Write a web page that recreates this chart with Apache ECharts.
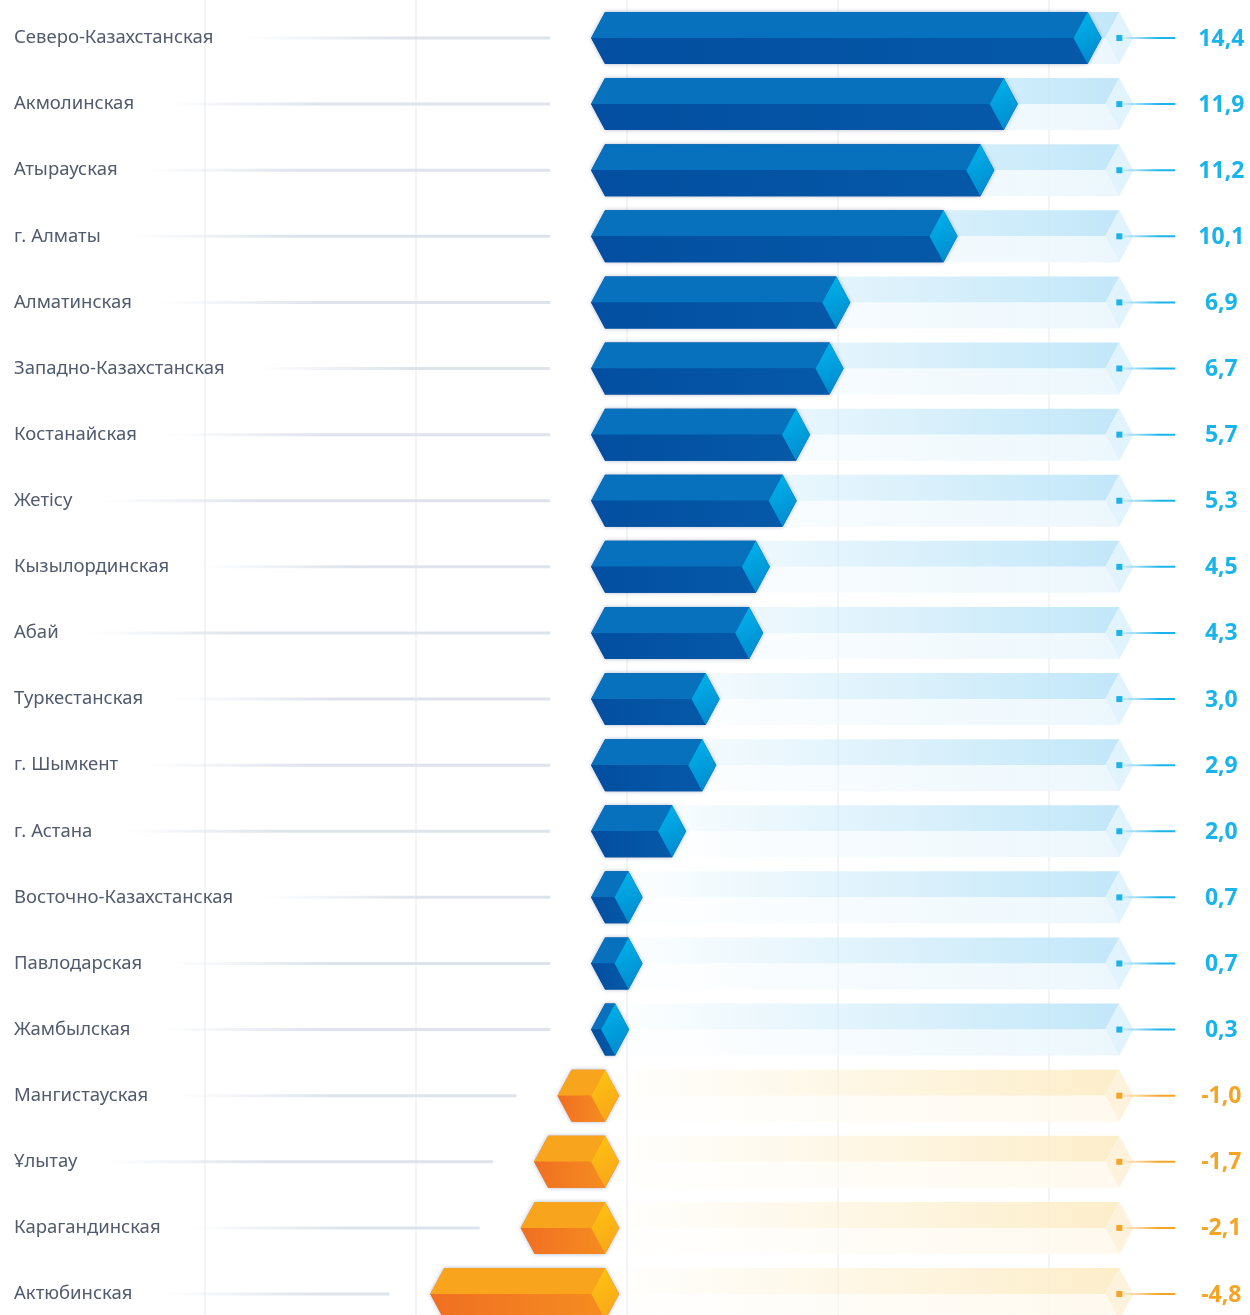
<!DOCTYPE html>
<html>
<head>
<meta charset="utf-8">
<script src="https://cdn.jsdelivr.net/npm/echarts@6/dist/echarts.min.js"></script>
<style>
  html, body { margin: 0; padding: 0; background: #fff; }
  #chart { width: 1250px; height: 1315px; }
</style>
</head>
<body>
<div id="chart"></div>
<script>
  // регионы и значения
  const regions = [
    'Северо-Казахстанская', 'Акмолинская', 'Атырауская', 'г. Алматы', 'Алматинская',
    'Западно-Казахстанская', 'Костанайская', 'Жетісу', 'Кызылординская', 'Абай',
    'Туркестанская', 'г. Шымкент', 'г. Астана', 'Восточно-Казахстанская', 'Павлодарская',
    'Жамбылская', 'Мангистауская', 'Ұлытау', 'Карагандинская', 'Актюбинская'
  ];
  const growth = [14.4, 11.9, 11.2, 10.1, 6.9, 6.7, 5.7, 5.3, 4.5, 4.3,
                  3.0, 2.9, 2.0, 0.7, 0.7, 0.3, -1.0, -1.7, -2.1, -4.8];
  const valueLabels = growth.map(v => v.toFixed(1).replace('.', ','));
  const trackEnd = 15.35;

  const labelFont = '18.5px "Noto Sans"';
  const measure = document.createElement('canvas').getContext('2d');
  measure.font = labelFont;

  const blue = {
    top: '#0871bd', bottom: '#034ea0', bottomR: '#0559a8',
    capA: '#00b6ec', capB: '#0086cc',
    trackTop: '194,231,249', trackBottom: '236,247,253', trackCap: '#e1f3fc',
    accent: '#1bb4ea', accentRgb: '27,180,234'
  };
  const orange = {
    top: '#f8a51d', bottom: '#f06f22', bottomR: '#f58c20',
    capA: '#fec510', capB: '#f8a31a',
    trackTop: '253,238,202', trackBottom: '255,249,238', trackCap: '#fdf2dc',
    accent: '#f6a424', accentRgb: '246,164,36'
  };

  function grad(x1, y1, x2, y2, c1, c2) {
    return new echarts.graphic.LinearGradient(x1, y1, x2, y2,
      [{ offset: 0, color: c1 }, { offset: 1, color: c2 }], true);
  }

  function renderRow(params, api) {
    const v = api.value(0), i = api.value(1);
    const p0 = api.coord([0, i]);
    const x0 = p0[0], y = p0[1];
    const xv = api.coord([v, i])[0];
    const xt = api.coord([trackEnd, i])[0];
    const h = 26, d = 14;
    const xl = Math.min(x0, xv), xr = Math.max(x0, xv);
    const pal = v >= 0 ? blue : orange;

    // серая направляющая слева
    const ls = 14 + measure.measureText(regions[i]).width + 28;
    const le = xl - d - 41;
    const children = [];
    if (le > ls) {
      children.push({
        type: 'line',
        shape: { x1: ls, y1: y, x2: le, y2: y },
        style: { lineWidth: 3, stroke: grad(ls, 0, ls + 160, 0, 'rgba(222,227,236,0)', '#dee3ec') }
      });
    }

    // фон (дорожка)
    children.push({
      type: 'polygon',
      shape: { points: [[x0, y - h], [xt, y - h], [xt - d, y], [x0, y]] },
      style: { fill: grad(x0, 0, xt, 0, 'rgba(' + pal.trackTop + ',0)', 'rgba(' + pal.trackTop + ',1)') }
    });
    children.push({
      type: 'polygon',
      shape: { points: [[x0, y], [xt - d, y], [xt, y + h], [x0, y + h]] },
      style: { fill: grad(x0, 0, xt, 0, 'rgba(' + pal.trackBottom + ',0)', 'rgba(' + pal.trackBottom + ',1)') }
    });
    children.push({
      type: 'polygon',
      shape: { points: [[xt, y - h], [xt + d, y], [xt, y + h], [xt - d, y]] },
      style: { fill: pal.trackCap }
    });

    // сам столбик
    children.push({
      type: 'polygon',
      shape: { points: [[xl - d, y], [xl, y - h], [xr, y - h], [xr + d, y], [xr, y + h], [xl, y + h]] },
      style: { fill: pal.bottom, shadowBlur: 4, shadowColor: 'rgba(20,50,110,0.35)' }
    });
    children.push({
      type: 'polygon',
      shape: { points: [[xl, y - h], [xr, y - h], [xr - d, y], [xl - d, y]] },
      style: { fill: pal.top }
    });
    children.push({
      type: 'polygon',
      shape: { points: [[xl - d, y], [xr - d, y], [xr, y + h], [xl, y + h]] },
      style: { fill: grad(xl - d, 0, xr, 0, pal.bottom, pal.bottomR) }
    });
    children.push({
      type: 'polygon',
      shape: { points: [[xr, y - h], [xr + d, y], [xr, y + h], [xr - d, y]] },
      style: { fill: grad(xr - d, y - h, xr + d, y + h, pal.capA, pal.capB) }
    });

    // маркер, линия и значение
    children.push({
      type: 'rect',
      shape: { x: xt - 3, y: y - 3, width: 6, height: 6 },
      style: { fill: pal.accent }
    });
    children.push({
      type: 'line',
      shape: { x1: xt + 3, y1: y, x2: xt + 56, y2: y },
      style: { lineWidth: 2, stroke: grad(xt + 3, 0, xt + 40, 0, 'rgba(' + pal.accentRgb + ',0.1)', pal.accent) }
    });
    children.push({
      type: 'text',
      style: {
        x: xt + 102, y: y + 1, text: valueLabels[i],
        fill: pal.accent, font: 'bold 23px "Noto Sans"',
        align: 'center', verticalAlign: 'middle'
      }
    });

    return { type: 'group', children: children };
  }

  const chart = echarts.init(document.getElementById('chart'));

  const gridLines = [205, 416, 627, 838, 1049].map(x => ({
    type: 'line', z: -10, silent: true,
    shape: { x1: x, y1: 0, x2: x, y2: 1315 },
    style: { stroke: '#f2f4f8', lineWidth: 2 }
  }));

  chart.setOption({
    animation: false,
    graphic: gridLines,
    grid: { left: 0, right: 0, top: 38, bottom: 21 },
    xAxis: {
      type: 'value', min: -18.06, max: 19.25,
      show: false, splitLine: { show: false }
    },
    yAxis: {
      type: 'category', data: regions, inverse: true, boundaryGap: false,
      axisLine: { show: false }, axisTick: { show: false }, splitLine: { show: false },
      axisLabel: {
        inside: true, margin: 14, align: 'left', padding: [4, 0, 0, 0],
        color: '#515b6d', fontSize: 18.5, fontFamily: 'Noto Sans'
      }
    },
    series: [{
      type: 'custom',
      renderItem: renderRow,
      clip: false,
      encode: { x: 0, y: 1 },
      data: growth.map((v, i) => [v, i])
    }]
  });
</script>
</body>
</html>
